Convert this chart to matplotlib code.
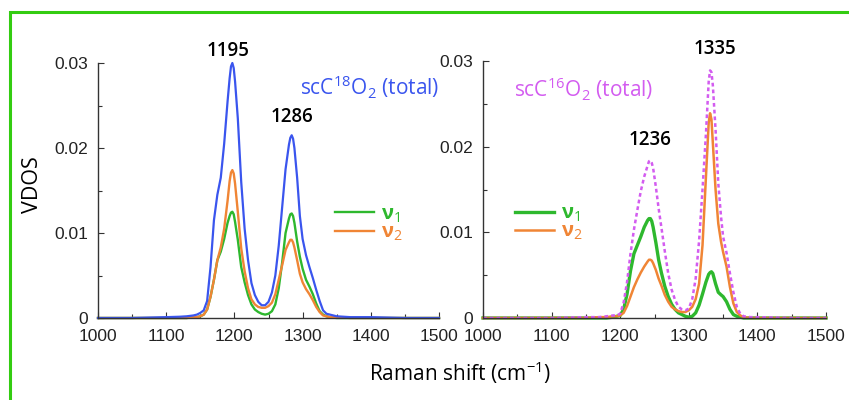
import numpy as np
import matplotlib as mpl
mpl.use('Agg')
import matplotlib.pyplot as plt
from matplotlib.patches import Rectangle
from matplotlib.ticker import MultipleLocator

###############
# Chart data  #
###############

# scC18O2 panel (left)
wn18 = [1000, 1050, 1100, 1120, 1130, 1140, 1145, 1150, 1155, 1160, 1165, 1170, 1175, 1180,
        1185, 1190, 1193, 1195, 1197, 1199, 1201, 1205, 1210, 1215, 1220, 1225, 1230, 1235,
        1240, 1245, 1250, 1255, 1260, 1265, 1270, 1275, 1280, 1282, 1284, 1286, 1288, 1292,
        1296, 1300, 1305, 1310, 1315, 1320, 1325, 1330, 1335, 1340, 1350, 1370, 1400, 1450,
        1500]
total18 = [0, 0, 0.0001, 0.00015, 0.0002, 0.0003, 0.0004, 0.0006, 0.0009, 0.0020, 0.0060,
           0.0115, 0.0145, 0.0165, 0.0205, 0.0255, 0.0282, 0.0296, 0.0300, 0.0294, 0.0278,
           0.0235, 0.0160, 0.0105, 0.0068, 0.0041, 0.0027, 0.0019, 0.0015, 0.0015, 0.0019,
           0.0030, 0.0050, 0.0085, 0.0130, 0.0175, 0.0204, 0.0212, 0.0215, 0.0211, 0.0200,
           0.0165, 0.0120, 0.0093, 0.0074, 0.0060, 0.0047, 0.0033, 0.0020, 0.0009, 0.0005,
           0.0004, 0.0002, 0.0001, 0.0001, 0, 0]
nu1_18 = [0, 0, 0, 0, 0, 0.0001, 0.0001, 0.0002, 0.0004, 0.0010, 0.0025, 0.0045, 0.0068,
          0.0078, 0.0093, 0.0112, 0.0120, 0.0124, 0.0125, 0.0122, 0.0113, 0.0092, 0.0060,
          0.0042, 0.0027, 0.0016, 0.0010, 0.0007, 0.0005, 0.0004, 0.0005, 0.0008, 0.0016,
          0.0035, 0.0065, 0.0100, 0.0117, 0.0122, 0.0123, 0.0120, 0.0112, 0.0090, 0.0072,
          0.0058, 0.0045, 0.0037, 0.0028, 0.0017, 0.0008, 0.0004, 0.0002, 0.0001, 0, 0, 0,
          0, 0]
nu2_18 = [0, 0, 0, 0, 0, 0.0001, 0.0001, 0.0002, 0.0004, 0.0010, 0.0025, 0.0045, 0.0068,
          0.0083, 0.0105, 0.0138, 0.0161, 0.0171, 0.0174, 0.0170, 0.0158, 0.0125, 0.0082,
          0.0055, 0.0035, 0.0022, 0.0016, 0.0013, 0.0012, 0.0012, 0.0014, 0.0018, 0.0028,
          0.0045, 0.0062, 0.0080, 0.0089, 0.0092, 0.0092, 0.0089, 0.0083, 0.0068, 0.0052,
          0.0042, 0.0034, 0.0028, 0.0021, 0.0013, 0.0007, 0.0003, 0.0002, 0.0001, 0.0001, 0,
          0, 0, 0]

# scC16O2 panel (right)
wn16 = [1000, 1050, 1100, 1150, 1170, 1180, 1190, 1195, 1200, 1205, 1210, 1215, 1220, 1225,
        1230, 1235, 1240, 1242, 1244, 1246, 1248, 1252, 1256, 1260, 1265, 1270, 1275, 1280,
        1285, 1290, 1295, 1300, 1305, 1310, 1315, 1320, 1325, 1329, 1331, 1333, 1335, 1339,
        1343, 1347, 1350, 1355, 1360, 1365, 1370, 1375, 1380, 1390, 1400, 1450, 1500]
total16 = [0, 0, 0, 0.0001, 0.0001, 0.0002, 0.0003, 0.0003, 0.0005, 0.0018, 0.0042, 0.0075,
           0.0103, 0.0126, 0.0148, 0.0165, 0.0178, 0.0183, 0.0184, 0.0181, 0.0175, 0.0153,
           0.0128, 0.0106, 0.0078, 0.0052, 0.0033, 0.0021, 0.0013, 0.0010, 0.0009, 0.0011,
           0.0022, 0.0046, 0.0090, 0.0150, 0.0215, 0.0276, 0.0289, 0.0287, 0.0272, 0.0220,
           0.0157, 0.0118, 0.0095, 0.0076, 0.0052, 0.0030, 0.0013, 0.0005, 0.0002, 0.0001,
           0.0001, 0, 0]
nu1_16 = [0, 0, 0, 0, 0, 0, 0.0001, 0.0002, 0.0003, 0.0010, 0.0028, 0.0055, 0.0075, 0.0085,
          0.0095, 0.0106, 0.0114, 0.0116, 0.0116, 0.0113, 0.0106, 0.0088, 0.0068, 0.0053,
          0.0037, 0.0025, 0.0016, 0.0010, 0.0006, 0.0004, 0.0002, 0.0001, 0.0002, 0.0006,
          0.0015, 0.0028, 0.0042, 0.0051, 0.0053, 0.0054, 0.0052, 0.0040, 0.0030, 0.0027,
          0.0025, 0.0019, 0.0010, 0.0004, 0.0002, 0.0001, 0, 0, 0, 0, 0]
nu2_16 = [0, 0, 0, 0, 0.0001, 0.0001, 0.0002, 0.0002, 0.0003, 0.0006, 0.0014, 0.0025, 0.0036,
          0.0045, 0.0053, 0.0060, 0.0066, 0.0068, 0.0068, 0.0067, 0.0064, 0.0056, 0.0046,
          0.0038, 0.0027, 0.0019, 0.0013, 0.0010, 0.0008, 0.0007, 0.0007, 0.0009, 0.0013,
          0.0022, 0.0040, 0.0085, 0.0165, 0.0228, 0.0239, 0.0232, 0.0205, 0.0150, 0.0110,
          0.0089, 0.0077, 0.0060, 0.0036, 0.0017, 0.0007, 0.0003, 0.0001, 0, 0, 0, 0]

# peak labels (text, x position, y position)
peaks18 = [('1195', 1190, 0.0302), ('1286', 1284, 0.0225)]
peaks16 = [('1236', 1243, 0.0196), ('1335', 1338, 0.0302)]

xticks = [1000, 1100, 1200, 1300, 1400, 1500]
yticks = [0, 0.01, 0.02, 0.03]
yticklabels = ['0', '0.01', '0.02', '0.03']

##########
# Styles #
##########

c_green = '#2eb82e'
c_orange = '#f08535'
c_blue = '#3a55ee'
c_magenta = '#d35cf0'
c_border = '#33cc11'
c_axis = '#333333'

plt.rcParams['font.family'] = ['Liberation Sans', 'DejaVu Sans']
plt.rcParams['mathtext.fontset'] = 'custom'
plt.rcParams['mathtext.rm'] = 'Open Sans'
plt.rcParams['mathtext.it'] = 'Open Sans:italic'
plt.rcParams['mathtext.bf'] = 'Open Sans:bold'
label_font = ['Open Sans', 'DejaVu Sans']

fig = plt.figure(figsize=(8.49, 4.0), dpi=100)
fig.patch.set_facecolor('white')

ax1 = fig.add_axes([98 / 849, 1 - 318 / 400, 341 / 849, 255 / 400])
ax2 = fig.add_axes([483 / 849, 1 - 318 / 400, 343 / 849, 257 / 400])


def style_axes(ax):
    ax.set_xlim(1000, 1500)
    ax.set_ylim(0, 0.03)
    for side in ('top', 'right'):
        ax.spines[side].set_visible(False)
    for side in ('left', 'bottom'):
        ax.spines[side].set_color(c_axis)
        ax.spines[side].set_linewidth(1.0)
    ax.set_xticks(xticks)
    ax.set_yticks(yticks)
    ax.set_yticklabels(yticklabels)
    ax.xaxis.set_minor_locator(MultipleLocator(50))
    ax.yaxis.set_minor_locator(MultipleLocator(0.005))
    ax.tick_params(which='both', direction='in', color=c_axis, width=0.8,
                   labelsize=12.5, labelcolor='#222222')
    ax.tick_params(which='major', length=4)
    ax.tick_params(which='minor', length=3)
    ax.tick_params(axis='x', pad=8)
    ax.tick_params(axis='y', pad=7)


# left panel
style_axes(ax1)
l1, = ax1.plot(wn18, nu1_18, color=c_green, lw=1.7, clip_on=False)
l2, = ax1.plot(wn18, nu2_18, color=c_orange, lw=1.7, clip_on=False)
ax1.plot(wn18, total18, color=c_blue, lw=1.6, clip_on=False)
for txt, x, y in peaks18:
    ax1.text(x, y, txt, ha='center', va='bottom', fontsize=13.5, family=label_font,
             weight='semibold')
ax1.text(1500, 0.0271, 'scC$^{18}$O$_2$ (total)', ha='right', va='center',
         color=c_blue, fontsize=15, family=label_font)
ax1.legend([l1, l2], ['ν$_1$', 'ν$_2$'], loc='center left', bbox_to_anchor=(0.695, 0.37),
           frameon=False, borderaxespad=0, borderpad=0, handlelength=1.95,
           handletextpad=0.35, labelspacing=-0.1, labelcolor='linecolor',
           prop={'family': label_font, 'size': 14.5, 'weight': 'bold'})

# right panel
style_axes(ax2)
r1, = ax2.plot(wn16, nu1_16, color=c_green, lw=2.4, clip_on=False)
r2, = ax2.plot(wn16, nu2_16, color=c_orange, lw=1.8, clip_on=False)
ax2.plot(wn16, total16, color=c_magenta, lw=1.8, ls=(0, (1.5, 1.2)), clip_on=False)
for txt, x, y in peaks16:
    ax2.text(x, y, txt, ha='center', va='bottom', fontsize=13.5, family=label_font,
             weight='semibold')
ax2.text(1045, 0.0267, 'scC$^{16}$O$_2$ (total)', ha='left', va='center',
         color=c_magenta, fontsize=15, family=label_font)
ax2.legend([r1, r2], ['ν$_1$', 'ν$_2$'], loc='center left', bbox_to_anchor=(0.093, 0.37),
           frameon=False, borderaxespad=0, borderpad=0, handlelength=1.95,
           handletextpad=0.35, labelspacing=-0.1, labelcolor='linecolor',
           prop={'family': label_font, 'size': 14.5, 'weight': 'bold'})

# shared labels
fig.text(460 / 849, 1 - 373 / 400, 'Raman shift (cm$^{-1}$)', ha='center', va='center',
         fontsize=15, family=label_font)
fig.text(33 / 849, 1 - 185 / 400, 'VDOS', ha='center', va='center', rotation=90,
         fontsize=15.5, family=label_font)

# green frame (right and bottom edges are cut off in the original)
fig.patches.append(Rectangle((10 / 849, -0.1), 1.2, 1 - 12 / 400 + 0.1, fill=False,
                             edgecolor=c_border, lw=2.2, transform=fig.transFigure,
                             figure=fig))

fig.savefig('out.png', dpi=100)
